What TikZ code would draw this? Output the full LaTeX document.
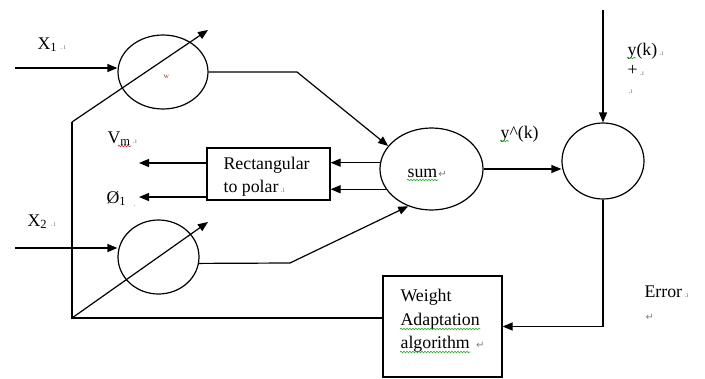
\documentclass[tikz,border=0pt]{standalone}
\usepackage{fontspec}
\setmainfont{Liberation Serif}
\newfontfamily\dejavu{DejaVu Sans}
\usetikzlibrary{shapes.geometric,arrows.meta,decorations.pathmorphing}
\definecolor{wcol}{RGB}{150,60,40}
\definecolor{sqgreen}{RGB}{40,170,40}
\definecolor{sqred}{RGB}{220,30,30}
\begin{document}
\begin{tikzpicture}[x=1pt,y=-1pt,
  line width=1.2pt,
  arr/.style={-{Triangle[length=10pt,width=8pt]}},
  ell/.style={draw, ellipse, inner sep=0pt},
  rbox/.style={draw, rectangle, inner sep=0pt},
  txt/.style={anchor=base west, inner sep=0pt, font=\fontsize{17.8}{24}\selectfont},
  pmark/.style={anchor=base west, inner sep=0pt, text=gray, font=\fontsize{8}{8}\selectfont},
  ret/.style={anchor=base west, inner sep=0pt, text=gray, font=\dejavu\fontsize{10}{10}\selectfont},
  sqg/.style={decorate, decoration={snake, amplitude=0.8pt, segment length=3pt}, line width=0.6pt, sqgreen},
  sqr/.style={sqg, sqred}
]
\useasboundingbox (0,0) rectangle (705,378);

% shapes
\node[ell, minimum width=90pt, minimum height=74pt] (w1) at (163,72) {};
\node[anchor=base west, inner sep=0pt, text=wcol, font=\fontsize{7.5}{7.5}\selectfont] (wlab) at (163,78) {w};
\node[ell, minimum width=81pt, minimum height=74pt] (w2) at (158.5,257) {};
\node[ell, minimum width=103pt, minimum height=82pt] (sum) at (431.5,169) {};
\node[ell, minimum width=82pt, minimum height=76pt] (err) at (603,161) {};
\node[rbox, minimum width=123pt, minimum height=52pt] (r) at (268.5,174) {};
\node[rbox, minimum width=119pt, minimum height=101pt] (wa) at (442.5,326.5) {};

% texts
\node[txt] (x1) at (37,49) {X\textsubscript{1}};
\node[pmark] (x1m) at ([xshift=2pt]x1.base east) {.\,ı};
\node[txt] (x2) at (27,226) {X\textsubscript{2}};
\node[pmark] (x2m) at ([xshift=2pt]x2.base east) {.\,ı};
\node[txt] (vm) at (107,143) {V\textsubscript{m}};
\node[pmark] (vmm) at ([xshift=1pt]vm.base east) {.ı};
\node[txt] (phi) at (106,203) {Ø\textsubscript{1}};
\node[pmark] (phim) at (133,206) {.};
\node[txt] (rt1) at (223,169) {Rectangular};
\node[txt] (rt2) at (223,192) {to polar};
\node[pmark] (rt2m) at ([xshift=1pt]rt2.base east) {.ı};
\node[txt] (sumt) at (407,177) {sum};
\node[ret] (sumr) at (sumt.base east) {↵};
\node[txt] (yhat) at (500,138) {y\textasciicircum(k)};
\node[txt] (yk) at (627,55) {y(k)};
\node[pmark] (ykm) at ([xshift=1pt]yk.base east) {.ı};
\node[txt] (plus) at (627,75) {+};
\node[pmark] (plusm) at ([xshift=1pt]plus.base east) {.ı};
\node[pmark] (dotm) at (628,93) {.ı};
\node[txt] (wt1) at (400,301) {Weight};
\node[txt] (wt2) at (400,325) {Adaptation};
\node[txt] (wt3) at (400,348) {algorithm};
\node[ret] (wt3r) at ([xshift=5pt]wt3.base east) {↵};
\node[txt] (errt) at (644,297) {Error};
\node[pmark] (errm) at ([xshift=1pt]errt.base east) {.ı};
\node[ret] (errr) at (645,320) {↵};

% spell-check squiggles
\draw[sqr] ([xshift=11pt,yshift=-3pt]vm.base west) -- ++(13,0);
\draw[sqg] ([yshift=-3pt]yk.base west) -- ++(9,0);
\draw[sqg] ([yshift=-3pt]yhat.base west) -- ++(9,0);
\draw[sqg] ([yshift=-3pt]sumt.base west) -- ([yshift=-3pt]sumt.base east);
\draw[sqg] ([yshift=-4pt]wt2.base west) -- ([yshift=-4pt]wt2.base east);
\draw[sqg] ([yshift=-4pt]wt3.base west) -- ([yshift=-4pt]wt3.base east);

% connectors
\coordinate (x1in) at (15,68);
\draw[arr] (x1in) -- (x1in -| w1.west);
\coordinate (x2in) at (15,248);
\draw[arr] (x2in) -- (x2in -| w2.west);
\coordinate (base) at (72,122);
\coordinate (corner) at (72,318);
\coordinate (tip1) at (208,30);
\coordinate (tip2) at (208,222);
\draw[arr] (base) -- (tip1);
\draw (base) -- (corner) -- (corner -| wa.west);
\draw[arr] (corner) -- (tip2);
\coordinate (j1) at (297,72);
\draw[arr] (w1.east) -- (j1) -- (sum.152);
\coordinate (j2) at (290,263);
\draw[arr] (w2.-9) -- (j2) -- (sum.238);
\draw[arr] (sum.173) -- (sum.173 -| r.east);
\draw[arr] (sum.204) -- (sum.204 -| r.east);
\coordinate (e1) at (139,163);
\coordinate (e2) at (139,197);
\draw[arr] (e1 -| r.west) -- (e1);
\draw[arr] (e2 -| r.west) -- (e2);
\draw[arr] (sum.east) -- (sum.east -| err.west);
\coordinate (ytop) at (603,10);
\draw[arr] (ytop) -- (err.north);
\draw[arr] (err.south) |- (wa.east);
\end{tikzpicture}
\end{document}
